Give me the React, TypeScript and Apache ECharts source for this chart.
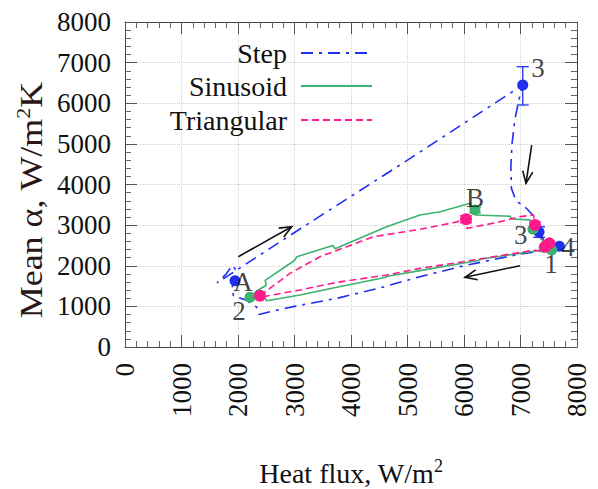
import React, { useEffect, useRef } from "react";
import * as echarts from "echarts";

const FONT = "Liberation Serif";
const STEP_COLOR = "#1f2ff0";
const SINE_COLOR = "#3cb371";
const TRI_COLOR = "#ff1a8c";
const COLORS = [STEP_COLOR, SINE_COLOR, TRI_COLOR];

const seriesNames = ["Step", "Sinusoid", "Triangular"];

// Step (dash-dot) loop: [heat flux, mean alpha]
const stepLine: number[][] = [
  [7690, 2480], [7400, 2370], [7000, 2290], [6000, 2000], [5221, 1731],
  [4500, 1450], [3747, 1198], [3000, 1000], [2600, 880], [2370, 800],
  [2330, 980], [2150, 1150], [1920, 1260], [1890, 1460], [1940, 1640],
  [1960, 1900], [1900, 2010], [1780, 1780], [1630, 1580], [2980, 2800],
  [5000, 4600], [7040, 6450], [6990, 6200], [6900, 5600], [6850, 5000],
  [6830, 4440], [6840, 3900], [6920, 3600], [7100, 3420], [7250, 3200],
  [7300, 3000], [7340, 2830], [7420, 2600], [7550, 2500], [7690, 2480],
];

// Sinusoid (solid) loop
const sineLine: number[][] = [
  [2212, 1223], [2330, 1380], [2500, 1520], [2480, 1640], [3000, 2130],
  [3040, 2220], [3680, 2500], [3720, 2420], [4630, 2960], [5220, 3250],
  [5580, 3330], [6106, 3537], [6210, 3250], [6820, 3220], [6840, 3150],
  [7170, 3130], [7200, 2950], [7260, 2800], [7380, 2640], [7480, 2470],
  [7550, 2400], [7290, 2370], [6290, 2160], [6250, 2130], [5221, 1880],
  [4640, 1740], [4600, 1710], [3747, 1470], [3098, 1280], [2508, 1140],
  [2450, 1260], [2212, 1223],
];

// Triangular (dashed) loop
const triLine: number[][] = [
  [2389, 1263], [2920, 1813], [3452, 2223], [4395, 2715], [5221, 2896],
  [5811, 3060], [6035, 3143], [6050, 2920], [6600, 3070], [7000, 3210],
  [7230, 3250], [7257, 3003], [7434, 2469], [7510, 2552], [7404, 2360],
  [7227, 2380], [5811, 2060], [5221, 1936], [4632, 1772], [3747, 1590],
  [3098, 1403], [2448, 1238], [2389, 1263],
];

// Measured points
const stepPts: number[][] = [[1947, 1632], [7040, 6449], [7328, 2830], [7688, 2480]];
const sinePts: number[][] = [[2212, 1223], [6195, 3372], [7220, 2900], [7552, 2390], [7420, 2450]];
const triPts: number[][] = [[2389, 1263], [6035, 3143], [7257, 3003], [7510, 2552], [7434, 2469]];

// Error bars: [x, low, high, series index]
const errorBars: number[][] = [
  [7040, 5957, 6900, 0],
  [7328, 2700, 2960, 0],
  [6195, 3300, 3440, 1],
  [6035, 3060, 3230, 2],
  [7257, 2940, 3080, 2],
];

// Arrows: [x0, y0, x1, y1]
const arrows: number[][] = [
  [2006, 2223, 2950, 2961],
  [7198, 4972, 7097, 4030],
  [6991, 2002, 6018, 1715],
];

// Point labels
const annotationNames = ["3", "B", "A", "2", "3", "1", "4"];
const annotationPos: number[][] = [
  [7310, 6868], [6195, 3668], [2089, 1600], [2018, 880], [7004, 2757], [7540, 2043], [7841, 2469],
];

export default function App() {
  const ref = useRef<HTMLDivElement>(null);
  useEffect(() => {
    if (!ref.current) return;
    const chart = echarts.init(ref.current, undefined, { renderer: "svg" });

    const axisCommon = {
      type: "value",
      min: 0,
      max: 8000,
      interval: 1000,
      axisLine: { show: true, onZero: false, lineStyle: { color: "#444", width: 1 } },
      axisTick: { show: true, inside: true, length: 12, lineStyle: { color: "#555" } },
      minorTick: { show: true, splitNumber: 5, length: 6, lineStyle: { color: "#666" } },
    };

    const legendCommon = (name: string, top: number) => ({
      data: [name],
      right: 225,
      top,
      orient: "horizontal",
      align: "right",
      padding: 0,
      itemWidth: 71,
      itemHeight: 14,
      selectedMode: false,
      itemStyle: { opacity: 0, borderWidth: 0 },
      textStyle: {
        fontSize: 28,
        fontFamily: FONT,
        color: "#111",
        lineHeight: 30,
        padding: [0, 9, 0, 0],
      },
    });

    const option: any = {
      animation: false,
      backgroundColor: "#fff",
      textStyle: { fontFamily: FONT },
      grid: { left: 125, right: 21, top: 22, bottom: 142, containLabel: false },
      legend: [
        legendCommon(seriesNames[0], 38),
        legendCommon(seriesNames[1], 71),
        legendCommon(seriesNames[2], 105),
      ],
      xAxis: [
        {
          ...axisCommon,
          position: "bottom",
          splitLine: { show: true, lineStyle: { color: "#d0d0d0", type: "dotted" } },
          axisLabel: {
            rotate: 90, margin: 16, fontSize: 27, fontFamily: FONT, color: "#111",
            formatter: (v: number) => String(v),
          },
        },
        {
          ...axisCommon,
          position: "top",
          splitLine: { show: false },
          axisLabel: { show: false },
        },
      ],
      yAxis: [
        {
          ...axisCommon,
          position: "left",
          splitLine: { show: true, lineStyle: { color: "#d0d0d0", type: "dotted" } },
          axisLabel: {
            margin: 14, fontSize: 27, fontFamily: FONT, color: "#111",
            formatter: (v: number) => String(v),
          },
        },
        {
          ...axisCommon,
          position: "right",
          splitLine: { show: false },
          axisLabel: { show: false },
        },
      ],
      graphic: [
        {
          type: "text",
          x: 351,
          y: 473,
          style: {
            text: "{a|Heat flux, W/m}{s|2}",
            align: "center",
            verticalAlign: "middle",
            rich: {
              a: { fontSize: 28, fontFamily: FONT, fill: "#111", lineHeight: 32 },
              s: { fontSize: 18, fontFamily: FONT, fill: "#111", verticalAlign: "top", lineHeight: 32, padding: [0, 0, 12, 0] },
            },
          },
        },
        {
          type: "text",
          x: 31,
          y: 200,
          rotation: Math.PI / 2,
          scaleX: 1.16,
          style: {
            text: "{a|Mean α, W/m}{s|2}{a|K}",
            align: "center",
            verticalAlign: "middle",
            rich: {
              a: { fontSize: 31, fontFamily: FONT, fill: "#2a1616", lineHeight: 34 },
              s: { fontSize: 19, fontFamily: FONT, fill: "#2a1616", verticalAlign: "top", lineHeight: 34, padding: [0, 0, 12, 0] },
            },
          },
        },
      ],
      series: [
        {
          name: seriesNames[0],
          type: "line",
          data: stepLine,
          symbol: "none",
          silent: true,
          lineStyle: { color: STEP_COLOR, width: 1.6, type: [12, 6, 3, 6] },
          itemStyle: { color: STEP_COLOR },
          z: 3,
        },
        {
          name: seriesNames[1],
          type: "line",
          data: sineLine,
          symbol: "none",
          silent: true,
          lineStyle: { color: SINE_COLOR, width: 1.6 },
          itemStyle: { color: SINE_COLOR },
          z: 3,
        },
        {
          name: seriesNames[2],
          type: "line",
          data: triLine,
          symbol: "none",
          silent: true,
          lineStyle: { color: TRI_COLOR, width: 1.6, type: [7, 4] },
          itemStyle: { color: TRI_COLOR },
          z: 3,
        },
        {
          name: "errors",
          type: "custom",
          data: errorBars,
          encode: { x: 0, y: [1, 2] },
          silent: true,
          z: 4,
          renderItem: (params: any, api: any) => {
            const x = api.value(0);
            const lo = api.coord([x, api.value(1)]);
            const hi = api.coord([x, api.value(2)]);
            const c = COLORS[api.value(3)];
            const w = 6;
            const st = { stroke: c, lineWidth: 1.3 };
            return {
              type: "group",
              children: [
                { type: "line", shape: { x1: lo[0], y1: lo[1], x2: hi[0], y2: hi[1] }, style: st },
                { type: "line", shape: { x1: lo[0] - w, y1: lo[1], x2: lo[0] + w, y2: lo[1] }, style: st },
                { type: "line", shape: { x1: hi[0] - w, y1: hi[1], x2: hi[0] + w, y2: hi[1] }, style: st },
              ],
            };
          },
        },
        {
          name: "Step points",
          type: "scatter",
          data: stepPts,
          symbolSize: 11,
          silent: true,
          itemStyle: { color: STEP_COLOR, opacity: 1 },
          z: 5,
        },
        {
          name: "Sinusoid points",
          type: "scatter",
          data: sinePts,
          symbolSize: 11,
          silent: true,
          itemStyle: { color: SINE_COLOR, opacity: 1 },
          z: 5,
        },
        {
          name: "Triangular points",
          type: "scatter",
          data: triPts,
          symbolSize: 12,
          silent: true,
          itemStyle: { color: TRI_COLOR, opacity: 1 },
          z: 6,
        },
        {
          name: "arrows",
          type: "custom",
          data: arrows,
          encode: { x: [0, 2], y: [1, 3] },
          silent: true,
          z: 7,
          renderItem: (params: any, api: any) => {
            const p0 = api.coord([api.value(0), api.value(1)]);
            const p1 = api.coord([api.value(2), api.value(3)]);
            const ang = Math.atan2(p1[1] - p0[1], p1[0] - p0[0]);
            const L = 13;
            const a = 0.4;
            const h1 = [p1[0] - L * Math.cos(ang - a), p1[1] - L * Math.sin(ang - a)];
            const h2 = [p1[0] - L * Math.cos(ang + a), p1[1] - L * Math.sin(ang + a)];
            const st = { stroke: "#111", lineWidth: 1.6, fill: "none" };
            return {
              type: "group",
              children: [
                { type: "line", shape: { x1: p0[0], y1: p0[1], x2: p1[0], y2: p1[1] }, style: st },
                { type: "polyline", shape: { points: [h1, p1, h2] }, style: st },
              ],
            };
          },
        },
        {
          name: "labels",
          type: "scatter",
          data: annotationPos.map((p, i) => ({ name: annotationNames[i], value: p })),
          symbolSize: 1,
          silent: true,
          itemStyle: { color: "rgba(0,0,0,0)" },
          z: 8,
          label: {
            show: true,
            position: "inside",
            formatter: "{b}",
            fontSize: 27,
            lineHeight: 22,
            fontFamily: FONT,
            color: "#111",
          },
        },
      ],
    };

    chart.setOption(option);
    return () => chart.dispose();
  }, []);

  return <div ref={ref} style={{ width: 598, height: 489, position: "absolute", left: 0, top: 0 }} />;
}
